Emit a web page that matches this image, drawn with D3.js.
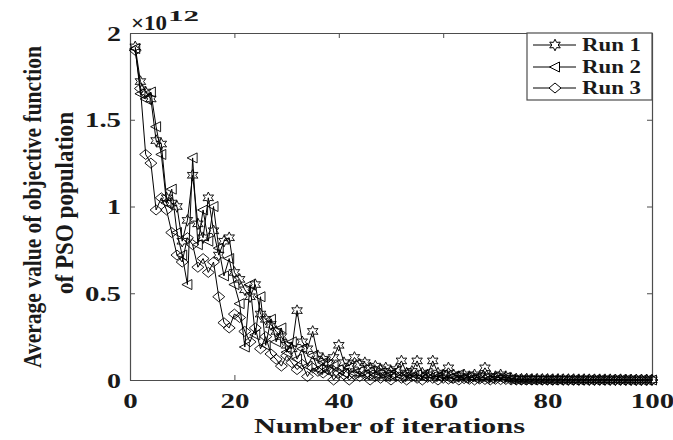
<!DOCTYPE html>
<html>
<head>
<meta charset="utf-8">
<script src="https://cdn.jsdelivr.net/npm/d3@7"></script>
<style>
  html, body { margin: 0; padding: 0; background: #fff; }
  svg { display: block; }
  text { font-family: "Liberation Serif", "DejaVu Serif", serif; font-weight: bold; fill: #1a1a1a; }
</style>
</head>
<body>
<svg id="chart" width="673" height="440"></svg>
<script>
// Average objective value of the PSO population (×10^12), iterations 1..100
const run1 = [
  1.92, 1.72, 1.66, 1.62, 1.38, 1.36, 1.05, 1.02, 1.00, 0.80,
  0.92, 1.18, 0.90, 0.82, 1.05, 0.86, 0.72, 0.80, 0.82, 0.62,
  0.58, 0.52, 0.48, 0.55, 0.38, 0.35, 0.32, 0.28, 0.25, 0.20,
  0.18, 0.40, 0.22, 0.18, 0.28, 0.14, 0.12, 0.10, 0.13, 0.20,
  0.10, 0.08, 0.13, 0.09, 0.10, 0.07, 0.08, 0.06, 0.07, 0.05,
  0.06, 0.11, 0.04, 0.05, 0.11, 0.04, 0.03, 0.11, 0.04, 0.03,
  0.07, 0.03, 0.02, 0.03, 0.02, 0.03, 0.02, 0.07, 0.02, 0.02,
  0.03, 0.02, 0.01, 0.006, 0.005, 0.006, 0.004, 0.005, 0.004, 0.004,
  0.003, 0.004, 0.003, 0.003, 0.003, 0.002, 0.003, 0.002, 0.002, 0.002,
  0.002, 0.002, 0.001, 0.002, 0.001, 0.001, 0.001, 0.001, 0.001, 0.001
];
const run2 = [
  1.91, 1.65, 1.62, 1.66, 1.46, 1.30, 1.02, 1.10, 0.85, 0.72,
  0.55, 1.28, 0.78, 0.98, 0.80, 1.00, 0.76, 0.60, 0.70, 0.55,
  0.44, 0.19, 0.55, 0.26, 0.48, 0.20, 0.35, 0.22, 0.30, 0.16,
  0.22, 0.12, 0.18, 0.08, 0.14, 0.06, 0.10, 0.05, 0.08, 0.06,
  0.04, 0.07, 0.04, 0.05, 0.03, 0.05, 0.03, 0.04, 0.02, 0.03,
  0.05, 0.02, 0.04, 0.02, 0.03, 0.02, 0.04, 0.02, 0.02, 0.03,
  0.01, 0.02, 0.03, 0.01, 0.02, 0.01, 0.02, 0.01, 0.01, 0.02,
  0.01, 0.015, 0.005, 0.003, 0.002, 0.003, 0.002, 0.002, 0.002, 0.002,
  0.001, 0.002, 0.001, 0.001, 0.001, 0.001, 0.001, 0.001, 0.001, 0.001,
  0.001, 0.001, 0.001, 0.001, 0.001, 0.0, 0.0, 0.0, 0.0, 0.0
];
const run3 = [
  1.90, 1.68, 1.30, 1.25, 0.98, 1.05, 0.98, 0.85, 0.72, 0.68,
  0.82, 0.78, 0.65, 0.70, 0.62, 0.68, 0.48, 0.33, 0.30, 0.38,
  0.36, 0.28, 0.22, 0.30, 0.18, 0.25, 0.15, 0.12, 0.08, 0.14,
  0.10, 0.06, 0.09, 0.02, 0.07, 0.05, 0.04, 0.06, 0.00, 0.04,
  0.03, 0.00, 0.03, 0.02, 0.03, 0.00, 0.02, 0.01, 0.02, 0.00,
  0.02, 0.01, 0.00, 0.02, 0.01, 0.00, 0.015, 0.01, 0.00, 0.01,
  0.005, 0.01, 0.00, 0.008, 0.004, 0.00, 0.006, 0.003, 0.00, 0.004,
  0.002, 0.003, 0.0, 0.0, 0.0, 0.0, 0.0, 0.0, 0.0, 0.0,
  0.0, 0.0, 0.0, 0.0, 0.0, 0.0, 0.0, 0.0, 0.0, 0.0,
  0.0, 0.0, 0.0, 0.0, 0.0, 0.0, 0.0, 0.0, 0.0, 0.0
];
const seriesNames = ["Run 1", "Run 2", "Run 3"];
const seriesMarkers = ["hexagram", "triangleLeft", "diamond"];
const xTicks = [0, 20, 40, 60, 80, 100];
const yTicks = [0, 0.5, 1, 1.5, 2];
const yTickLabels = ["0", "0.5", "1", "1.5", "2"];

const svg = d3.select("#chart");
const plotLeft = 130, plotRight = 652, plotTop = 33, plotBottom = 380;

const x = d3.scaleLinear().domain([0, 100]).range([plotLeft, plotRight]);
const y = d3.scaleLinear().domain([0, 2]).range([plotBottom, plotTop]);

// Marker outlines centred on the origin
function markerPath(kind) {
  if (kind === "hexagram") {
    const pts = [];
    for (let k = 0; k < 12; k++) {
      const a = -Math.PI / 2 + k * Math.PI / 6;
      const r = k % 2 === 0 ? 5.8 : 3.0;
      pts.push([r * Math.cos(a) * 1.05, r * Math.sin(a)]);
    }
    return "M" + pts.map(p => p.join(",")).join("L") + "Z";
  }
  if (kind === "triangleLeft") {
    return "M-5.5,0L4.5,-5L4.5,5Z";
  }
  return "M0,-5L6,0L0,5L-6,0Z";
}

const axisColor = "#4d4d4d";

// Axes with inward ticks (box style)
const gx = svg.append("g").attr("transform", `translate(0,${plotBottom})`)
  .call(d3.axisBottom(x).tickValues(xTicks).tickSizeInner(-5).tickSizeOuter(0).tickPadding(12));
const gxTop = svg.append("g").attr("transform", `translate(0,${plotTop})`)
  .call(d3.axisTop(x).tickValues(xTicks).tickSizeInner(-5).tickSizeOuter(0).tickFormat(""));
const gy = svg.append("g").attr("transform", `translate(${plotLeft},0)`)
  .call(d3.axisLeft(y).tickValues(yTicks).tickSizeInner(-5).tickSizeOuter(0)
    .tickFormat((d, i) => yTickLabels[i]).tickPadding(9));
const gyRight = svg.append("g").attr("transform", `translate(${plotRight},0)`)
  .call(d3.axisRight(y).tickValues(yTicks).tickSizeInner(-5).tickSizeOuter(0).tickFormat(""));

[gx, gxTop, gy, gyRight].forEach(g => {
  g.select(".domain").attr("stroke", axisColor).attr("stroke-width", 1.2);
  g.selectAll(".tick line").attr("stroke", axisColor);
});
gx.selectAll(".tick text")
  .style("font-size", "22px").attr("fill", "#1a1a1a")
  .style("font-family", "'Liberation Serif', serif").style("font-weight", "bold")
  .attr("textLength", d => String(d).length * 14.5).attr("lengthAdjust", "spacingAndGlyphs");
gy.selectAll(".tick text")
  .style("font-size", "22px").attr("fill", "#1a1a1a")
  .style("font-family", "'Liberation Serif', serif").style("font-weight", "bold")
  .attr("textLength", (d, i) => yTickLabels[i].length === 1 ? 14 : 36)
  .attr("lengthAdjust", "spacingAndGlyphs");

// Exponent label: "×10" with a raised "12"
svg.append("text").attr("x", 131).attr("y", 30).style("font-size", "20px")
  .attr("textLength", 36).attr("lengthAdjust", "spacingAndGlyphs").text("×10");
svg.append("text").attr("x", 168).attr("y", 21).style("font-size", "15px")
  .attr("textLength", 31).attr("lengthAdjust", "spacingAndGlyphs").text("12");

// Series lines and markers
const allRuns = [run1, run2, run3];
const line = d3.line().x((d, i) => x(i + 1)).y(d => y(d));
allRuns.forEach((vals, s) => {
  const g = svg.append("g");
  g.append("path").datum(vals).attr("d", line)
    .attr("fill", "none").attr("stroke", "#000").attr("stroke-width", 1);
  g.selectAll("path.m").data(vals).join("path").attr("class", "m")
    .attr("d", markerPath(seriesMarkers[s]))
    .attr("transform", (d, i) => `translate(${x(i + 1)},${y(d)})`)
    .attr("fill", "none").attr("stroke", "#000").attr("stroke-width", 0.9);
});

// Legend
const lg = svg.append("g");
lg.append("rect").attr("x", 527).attr("y", plotTop).attr("width", plotRight - 527).attr("height", 67)
  .attr("fill", "#fff").attr("stroke", axisColor).attr("stroke-width", 1.2);
const rowY = [45, 67, 88];
seriesNames.forEach((name, s) => {
  lg.append("line").attr("x1", 533).attr("x2", 576).attr("y1", rowY[s]).attr("y2", rowY[s])
    .attr("stroke", "#000").attr("stroke-width", 1);
  lg.append("path").attr("d", markerPath(seriesMarkers[s]))
    .attr("transform", `translate(555,${rowY[s]})`)
    .attr("fill", "#fff").attr("stroke", "#000").attr("stroke-width", 1);
  lg.append("text").attr("x", 582).attr("y", rowY[s] + 6).style("font-size", "18px")
    .attr("textLength", 59).attr("lengthAdjust", "spacingAndGlyphs").text(name);
});

// Axis titles
svg.append("text").attr("x", 254).attr("y", 433).style("font-size", "22px")
  .attr("textLength", 271).attr("lengthAdjust", "spacingAndGlyphs")
  .text("Number of iterations");

// Condensed two-line vertical title, squeezed to a set length along its baseline
function verticalTitle(str, bx, cy, len) {
  const t = svg.append("text").attr("text-anchor", "middle").style("font-size", "26px").text(str);
  const natural = t.node().getComputedTextLength();
  t.attr("transform", `translate(${bx},${cy}) rotate(-90) scale(${len / natural},1)`);
}
verticalTitle("Average value of objective function", 41, 207, 322);
verticalTitle("of PSO population", 73, 203, 182);
</script>
</body>
</html>
